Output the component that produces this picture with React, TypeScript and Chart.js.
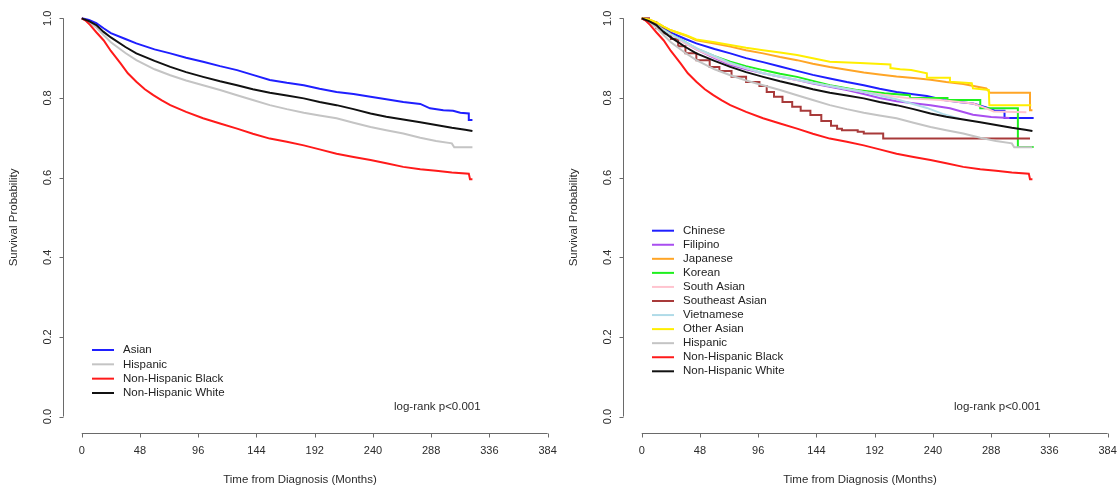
import React, { useEffect, useRef } from "react";
import { Chart, registerables } from "chart.js";

Chart.register(...registerables);

// ---------- axes / text ----------
const xTicks = [0, 48, 96, 144, 192, 240, 288, 336, 384];
const yTicks = [0, 0.2, 0.4, 0.6, 0.8, 1.0];
const xTitle = "Time from Diagnosis (Months)";
const yTitle = "Survival Probability";
const noteText = "log-rank p<0.001";

// ---------- left panel ----------
const asianMonths = [0, 6, 12, 18, 24, 36, 45, 60, 73, 86, 100, 114, 128, 141, 155, 169, 183, 196, 210, 224, 238, 251, 265, 279, 287, 298, 306, 312, 319, 319, 322];
const asianSurv = [1.0, 0.996, 0.988, 0.975, 0.963, 0.948, 0.937, 0.922, 0.912, 0.901, 0.891, 0.88, 0.87, 0.858, 0.845, 0.838, 0.832, 0.823, 0.815, 0.81, 0.803, 0.797, 0.79, 0.785, 0.774, 0.769, 0.768, 0.763, 0.761, 0.745, 0.745];

const hispanicMonths = [0, 6, 12, 18, 24, 36, 45, 60, 73, 86, 100, 114, 128, 141, 155, 169, 183, 196, 210, 224, 238, 251, 265, 279, 292, 305, 307, 322];
const hispanicSurv = [1.0, 0.99, 0.977, 0.958, 0.94, 0.913, 0.895, 0.872, 0.857, 0.844, 0.832, 0.82, 0.807, 0.795, 0.782, 0.772, 0.763, 0.756, 0.749, 0.738, 0.727, 0.719, 0.711, 0.7, 0.692, 0.686, 0.676, 0.676];

const nhBlackMonths = [0, 3, 7, 12, 18, 24, 32, 38, 45, 52, 59, 66, 73, 86, 100, 114, 128, 141, 155, 169, 183, 196, 210, 224, 238, 251, 265, 279, 292, 305, 319, 320, 322];
const nhBlackSurv = [1.0, 0.995, 0.983, 0.965, 0.945, 0.918, 0.887, 0.862, 0.841, 0.822, 0.807, 0.794, 0.782, 0.765, 0.749, 0.736, 0.723, 0.71, 0.698, 0.69, 0.681, 0.671, 0.66, 0.652, 0.644, 0.636, 0.627, 0.621, 0.617, 0.613, 0.61, 0.596, 0.596];

const nhWhiteMonths = [0, 6, 12, 18, 24, 36, 45, 60, 73, 86, 100, 114, 128, 141, 155, 169, 183, 196, 210, 224, 238, 251, 265, 279, 292, 305, 316, 322];
const nhWhiteSurv = [1.0, 0.993, 0.983, 0.966, 0.952, 0.928, 0.912, 0.893, 0.878, 0.865, 0.853, 0.842, 0.832, 0.822, 0.813, 0.806, 0.799, 0.79, 0.782, 0.772, 0.761, 0.753, 0.746, 0.739, 0.732, 0.725, 0.72, 0.717];

// ---------- right panel (Asian subgroups) ----------
const chineseMonths = [0, 6, 12, 18, 24, 36, 45, 60, 73, 86, 100, 114, 128, 141, 155, 169, 183, 196, 210, 222, 235, 249, 261, 273, 284, 291, 299, 299, 323];
const chineseSurv = [1.0, 0.996, 0.987, 0.975, 0.964, 0.948, 0.937, 0.923, 0.912, 0.9, 0.89, 0.879, 0.868, 0.858, 0.849, 0.84, 0.832, 0.823, 0.815, 0.81, 0.805, 0.795, 0.79, 0.786, 0.776, 0.768, 0.768, 0.75, 0.75];

const filipinoMonths = [0, 12, 24, 36, 45, 60, 73, 86, 100, 114, 128, 141, 155, 169, 183, 196, 210, 224, 238, 254, 273, 288, 303];
const filipinoSurv = [1.0, 0.984, 0.96, 0.938, 0.922, 0.9, 0.883, 0.872, 0.862, 0.853, 0.845, 0.836, 0.828, 0.82, 0.81, 0.8, 0.792, 0.787, 0.782, 0.774, 0.758, 0.752, 0.75];

const japaneseMonths = [0, 6, 12, 18, 24, 36, 45, 60, 73, 86, 100, 114, 128, 141, 155, 169, 183, 196, 210, 224, 238, 251, 265, 284, 287, 320, 320, 322];
const japaneseSurv = [1.0, 0.997, 0.99, 0.979, 0.97, 0.957, 0.945, 0.937, 0.929, 0.92, 0.912, 0.903, 0.895, 0.886, 0.878, 0.871, 0.864, 0.859, 0.854, 0.85, 0.846, 0.84, 0.835, 0.824, 0.813, 0.813, 0.769, 0.769];

const koreanMonths = [0, 12, 24, 36, 45, 60, 73, 86, 100, 114, 128, 141, 155, 177, 200, 221, 221, 252, 252, 279, 279, 310, 310, 323];
const koreanSurv = [1.0, 0.983, 0.96, 0.94, 0.924, 0.905, 0.891, 0.88, 0.87, 0.861, 0.853, 0.843, 0.832, 0.82, 0.812, 0.807, 0.8, 0.8, 0.795, 0.795, 0.774, 0.774, 0.677, 0.677];

const southAsianMonths = [0, 12, 24, 36, 48, 72, 100, 128, 155, 183, 210, 221, 246, 273, 284, 290, 317];
const southAsianSurv = [1.0, 0.982, 0.958, 0.937, 0.918, 0.887, 0.862, 0.845, 0.83, 0.815, 0.803, 0.799, 0.795, 0.786, 0.774, 0.766, 0.764];

const southeastAsianMonths = [0, 6, 12, 18, 24, 30, 36, 45, 56, 64, 74, 86, 97, 103, 109, 116, 124, 131, 139, 148, 156, 161, 165, 178, 183, 199, 320];
const southeastAsianSurv = [1.0, 0.99, 0.975, 0.962, 0.948, 0.93, 0.912, 0.895, 0.878, 0.868, 0.853, 0.84, 0.83, 0.815, 0.803, 0.79, 0.778, 0.768, 0.757, 0.742, 0.73, 0.723, 0.719, 0.715, 0.711, 0.698, 0.698];

const vietnameseMonths = [0, 12, 24, 36, 48, 72, 100, 128, 155, 183, 210, 235, 248, 262];
const vietnameseSurv = [1.0, 0.982, 0.96, 0.94, 0.921, 0.889, 0.862, 0.846, 0.83, 0.815, 0.797, 0.775, 0.76, 0.748];

const otherAsianMonths = [0, 6, 12, 18, 24, 36, 45, 60, 73, 86, 100, 114, 128, 141, 155, 180, 205, 205, 213, 222, 235, 235, 254, 254, 272, 273, 286, 286.5, 321];
const otherAsianSurv = [1.0, 0.997, 0.99, 0.979, 0.97, 0.958, 0.947, 0.94, 0.933, 0.926, 0.92, 0.914, 0.908, 0.9, 0.891, 0.888, 0.884, 0.875, 0.872, 0.87, 0.862, 0.851, 0.851, 0.841, 0.837, 0.824, 0.82, 0.782, 0.782];

type Series = { label: string; color: string; months: number[]; surv: number[]; stepped?: boolean };

const leftSeries: Series[] = [
  { label: "Asian", color: "#1f1fff", months: asianMonths, surv: asianSurv },
  { label: "Hispanic", color: "#c4c4c4", months: hispanicMonths, surv: hispanicSurv },
  { label: "Non-Hispanic Black", color: "#ff1a1a", months: nhBlackMonths, surv: nhBlackSurv },
  { label: "Non-Hispanic White", color: "#111111", months: nhWhiteMonths, surv: nhWhiteSurv },
];

const rightSeries: Series[] = [
  { label: "Chinese", color: "#1f1fff", months: chineseMonths, surv: chineseSurv },
  { label: "Filipino", color: "#a94ef0", months: filipinoMonths, surv: filipinoSurv },
  { label: "Japanese", color: "#ffa526", months: japaneseMonths, surv: japaneseSurv },
  { label: "Korean", color: "#1ef01e", months: koreanMonths, surv: koreanSurv },
  { label: "South Asian", color: "#ffc4cf", months: southAsianMonths, surv: southAsianSurv },
  { label: "Southeast Asian", color: "#a83a3a", months: southeastAsianMonths, surv: southeastAsianSurv, stepped: true },
  { label: "Vietnamese", color: "#b0dbe8", months: vietnameseMonths, surv: vietnameseSurv },
  { label: "Other Asian", color: "#ffee00", months: otherAsianMonths, surv: otherAsianSurv },
  { label: "Hispanic", color: "#c4c4c4", months: hispanicMonths, surv: hispanicSurv },
  { label: "Non-Hispanic Black", color: "#ff1a1a", months: nhBlackMonths, surv: nhBlackSurv },
  { label: "Non-Hispanic White", color: "#111111", months: nhWhiteMonths, surv: nhWhiteSurv },
];

const FONT = '"Liberation Sans", Arial, Helvetica, sans-serif';
const CW = 580;
const CH = 492;

function Panel(props: { series: Series[]; left: number; legendTop: number; legendGap: number }) {
  const ref = useRef<HTMLCanvasElement>(null);
  const { series, legendTop, legendGap } = props;

  useEffect(() => {
    const canvas = ref.current;
    if (!canvas) return;
    const rStyle = {
      id: "rStyle",
      afterDraw(chart: any) {
        const ctx = chart.ctx as CanvasRenderingContext2D;
        const ca = chart.chartArea;
        const xs = chart.scales.x;
        const ys = chart.scales.y;
        ctx.save();
        // axes
        ctx.strokeStyle = "#6a6a6a";
        ctx.lineWidth = 1;
        const yb = Math.round(ca.bottom) + 0.5;
        const xa = Math.round(ca.left) + 0.5;
        ctx.beginPath();
        ctx.moveTo(xs.getPixelForValue(xTicks[0]), yb);
        ctx.lineTo(xs.getPixelForValue(xTicks[xTicks.length - 1]), yb);
        for (const t of xTicks) {
          const px = Math.round(xs.getPixelForValue(t)) + 0.5;
          ctx.moveTo(px, yb);
          ctx.lineTo(px, yb + 4);
        }
        ctx.moveTo(xa, ys.getPixelForValue(yTicks[0]));
        ctx.lineTo(xa, ys.getPixelForValue(yTicks[yTicks.length - 1]));
        for (const t of yTicks) {
          const py = Math.round(ys.getPixelForValue(t)) + 0.5;
          ctx.moveTo(xa, py);
          ctx.lineTo(xa - 4, py);
        }
        ctx.stroke();

        // tick labels
        ctx.fillStyle = "#2b2b2b";
        ctx.font = `11px ${FONT}`;
        ctx.textAlign = "center";
        ctx.textBaseline = "middle";
        for (const t of xTicks) ctx.fillText(String(t), xs.getPixelForValue(t), yb + 17);
        for (const t of yTicks) {
          ctx.save();
          ctx.translate(xa - 16, ys.getPixelForValue(t));
          ctx.rotate(-Math.PI / 2);
          ctx.fillText(t.toFixed(1), 0, 0);
          ctx.restore();
        }

        // titles
        ctx.font = `11.5px ${FONT}`;
        ctx.fillText(xTitle, 300, 480);
        ctx.save();
        ctx.translate(13.5, (ca.top + ca.bottom) / 2);
        ctx.rotate(-Math.PI / 2);
        ctx.fillText(yTitle, 0, 0);
        ctx.restore();

        // note
        ctx.textAlign = "left";
        ctx.fillText(noteText, 394, 407);

        // legend
        series.forEach((s, i) => {
          const y = legendTop + i * legendGap;
          ctx.strokeStyle = s.color;
          ctx.lineWidth = 2;
          ctx.beginPath();
          ctx.moveTo(92, y);
          ctx.lineTo(114, y);
          ctx.stroke();
          ctx.fillStyle = "#222222";
          ctx.fillText(s.label, 123, y);
        });
        ctx.restore();
      },
    };

    const chart = new Chart(canvas, {
      type: "line",
      data: {
        datasets: series.map((s, i) => ({
          label: s.label,
          data: s.months.map((m, j) => ({ x: m, y: s.surv[j] })),
          borderColor: s.color,
          backgroundColor: s.color,
          borderWidth: 2,
          pointRadius: 0,
          fill: false,
          tension: 0,
          stepped: s.stepped ? true : false,
          order: series.length - i,
        })),
      },
      options: {
        responsive: false,
        maintainAspectRatio: false,
        animation: false,
        events: [],
        layout: { padding: { left: 63.1, top: 2.4, right: CW - 566.3, bottom: CH - 432.5 } },
        scales: {
          x: { type: "linear", min: -15.36, max: 399.36, display: false },
          y: { type: "linear", min: -0.04, max: 1.04, display: false },
        },
        plugins: { legend: { display: false }, tooltip: { enabled: false } },
      },
      plugins: [rStyle],
    } as any);
    return () => chart.destroy();
  }, []);

  return (
    <canvas
      ref={ref}
      width={CW}
      height={CH}
      style={{ position: "absolute", left: props.left, top: 0, width: CW, height: CH }}
    />
  );
}

export default function App() {
  return (
    <div
      style={{
        position: "fixed",
        left: 0,
        top: 0,
        width: 1118,
        height: 492,
        overflow: "hidden",
        background: "#ffffff",
      }}
    >
      <Panel series={leftSeries} left={0} legendTop={350} legendGap={14.33} />
      <Panel series={rightSeries} left={560} legendTop={230.7} legendGap={14.06} />
    </div>
  );
}
